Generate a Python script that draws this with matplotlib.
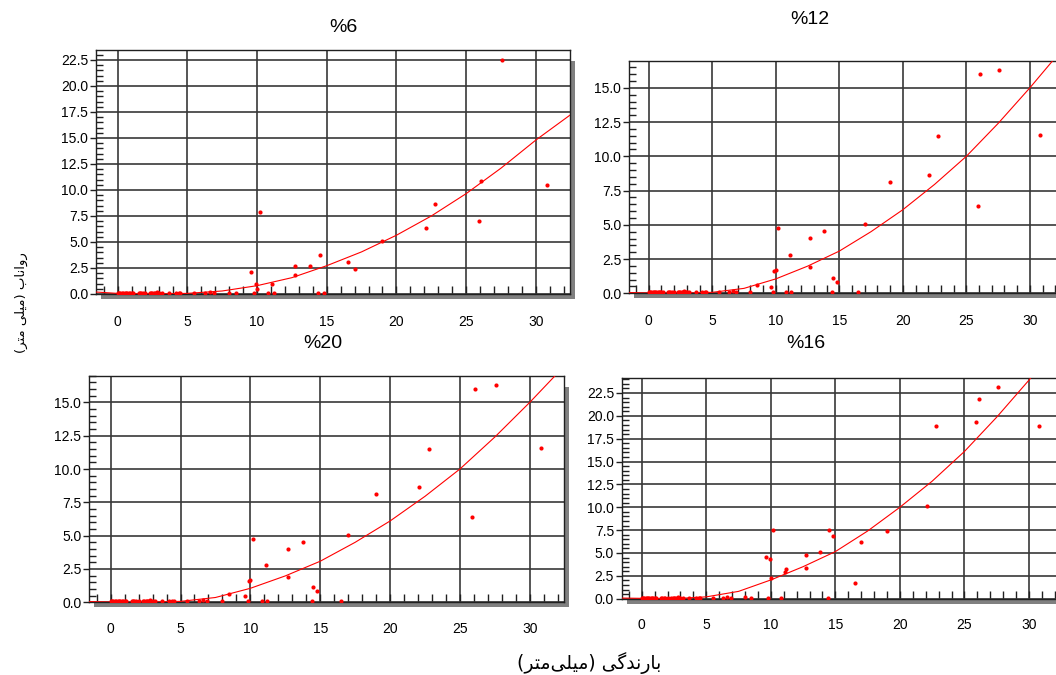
import matplotlib
matplotlib.use("Agg")
import matplotlib.pyplot as plt
from matplotlib.ticker import MultipleLocator, FormatStrFormatter
from matplotlib.patches import Rectangle

# dry / near-zero events (rainfall mm, runoff mm) - same in every panel
rain_low = [0.0, 0.1, 0.2, 0.3, 0.4, 0.5, 0.6, 0.7, 0.8, 0.9, 1.0, 1.1, 1.5, 1.6,
            1.7, 1.8, 2.0, 2.3, 2.4, 2.5, 2.6, 2.7, 2.8, 2.9, 3.0, 3.2, 3.7, 4.2,
            4.4, 4.5, 5.5, 6.3, 6.6, 6.9]
runoff_low = [0.1, 0.1, 0.1, 0.1, 0.1, 0.1, 0.1, 0.1, 0.1, 0.1, 0.1, 0.1, 0.1, 0.1,
              0.1, 0.1, 0.1, 0.1, 0.1, 0.1, 0.1, 0.1, 0.2, 0.1, 0.1, 0.1, 0.1, 0.1,
              0.1, 0.1, 0.1, 0.1, 0.15, 0.1]

# larger events
rain = [8.0, 8.5, 9.6, 9.8, 9.9, 10.0, 10.2, 10.8, 11.1, 11.2, 12.7, 12.7, 13.8,
        14.4, 14.5, 14.8, 16.5, 17.0, 19.0, 22.1, 22.8, 25.9, 26.1, 27.6, 30.8]
runoff_6 = [0.1, 0.1, 2.08, 0.1, 1.0, 0.5, 7.88, 0.1, 0.93, 0.1, 2.66, 1.8, 2.66,
            0.1, 3.75, 0.1, 3.08, 2.4, 5.13, 6.35, 8.65, 7.02, 10.87, 22.5, 10.45]
runoff_12 = [0.1, 0.6, 0.45, 0.1, 1.6, 1.67, 4.77, 0.1, 2.82, 0.1, 4.02, 1.9, 4.52,
             0.1, 1.12, 0.85, 0.1, 5.05, 8.15, 8.67, 11.47, 6.37, 16.0, 16.28, 11.58]
runoff_20 = [0.1, 0.6, 0.45, 0.1, 1.6, 1.67, 4.77, 0.1, 2.82, 0.1, 4.02, 1.9, 4.52,
             0.1, 1.12, 0.85, 0.1, 5.05, 8.15, 8.67, 11.47, 6.37, 16.0, 16.28, 11.58]
runoff_16 = [0.2, 0.1, 4.6, 0.1, 4.3, 2.26, 7.55, 0.1, 2.95, 3.2, 4.81, 3.32, 5.14,
             0.1, 7.55, 6.82, 1.72, 6.24, 7.37, 10.14, 18.9, 19.37, 21.85, 23.1, 18.9]

# fitted curves
curve_x = [-1.55, 0, 2.5, 5, 7.5, 10, 12.5, 15, 17.5, 20, 22.5, 25, 27.5, 30, 32.45]
curve_6 = [0.19, 0.06, 0.0, 0.06, 0.29, 0.8, 1.57, 2.72, 4.05, 5.65, 7.5, 9.65,
           12.1, 14.8, 17.2]
curve_12 = [0.05, 0.02, 0.0, 0.07, 0.36, 1.05, 1.98, 3.08, 4.5, 6.1, 7.95, 10.0,
            12.4, 15.0, 17.7]
curve_20 = curve_12
curve_16 = [0.07, 0.04, 0.0, 0.2, 0.8, 2.05, 3.5, 5.15, 7.4, 10.0, 12.85, 16.1,
            19.85, 23.9, 28.2]

titles = ["%6", "%12", "%20", "%16"]

# Persian labels (presentation forms, visual left-to-right order)
xlabel_fa = ("(\uFEAE\uFE98\uFEE3\uFBFD\uFEE0\uFBFF\uFEE3) "
             "\uFBFD\uFB94\uFEAA\uFEE7\uFEAD\uFE8E\uFE91")
ylabel_fa = ("(\uFEAE\uFE98\uFEE3 \uFBFD\uFEE0\uFBFF\uFEE3) "
             "\uFE8F\uFE8E\uFEE7\uFE8D\uFEED\uFEAD")

W, H = 1056, 675
fig = plt.figure(figsize=(W / 100, H / 100), dpi=100)
fig.patch.set_facecolor("white")

RED = "#ff0000"
GRID = "#383838"


def draw_panel(box, ytop, runoff, curve, title, title_xy, xpad):
    l, t, r, b = box
    ax = fig.add_axes([l / W, 1 - b / H, (r - l) / W, (b - t) / H])
    # drop shadow
    fig.add_artist(Rectangle(((l + 5) / W, 1 - (b + 5) / H), (r - l) / W,
                             (b - t - 6) / H, transform=fig.transFigure,
                             facecolor="#808080", edgecolor="none", zorder=-1))
    ax.set_xlim(-1.55, 32.45)
    ax.set_ylim(0, ytop)
    ax.xaxis.set_major_locator(MultipleLocator(5))
    ax.xaxis.set_minor_locator(MultipleLocator(1))
    ax.yaxis.set_major_locator(MultipleLocator(2.5))
    ax.yaxis.set_minor_locator(MultipleLocator(0.5))
    ax.yaxis.set_major_formatter(FormatStrFormatter("%.1f"))
    ax.grid(True, which="major", color=GRID, lw=1.2)
    ax.set_axisbelow(True)
    for s in ax.spines.values():
        s.set_color("#202020")
        s.set_linewidth(1.0)
    ax.tick_params(axis="x", which="both", direction="in", length=6, width=1,
                   color="#202020", pad=xpad)
    ax.tick_params(axis="y", which="major", direction="out", length=4, width=1,
                   color="#202020", pad=1.5)
    ax.tick_params(axis="y", which="minor", direction="in", length=5, width=1,
                   color="#202020")
    for lab in ax.get_xticklabels():
        lab.set_family(["Liberation Sans Narrow", "Liberation Sans"])
        lab.set_fontsize(10)
    for lab in ax.get_yticklabels():
        lab.set_family("Liberation Sans")
        lab.set_fontsize(10)

    ax.plot(curve_x, curve, color=RED, lw=0.8, zorder=3)
    ax.plot(rain_low, runoff_low, "o", color=RED, ms=3, mew=0, zorder=4)
    ax.plot(rain, runoff, "o", color=RED, ms=3, mew=0, zorder=4)

    fig.text(title_xy[0] / W, 1 - title_xy[1] / H, title, ha="center", va="center",
             fontsize=14, family=["Liberation Sans Narrow", "Liberation Sans"])
    return ax


draw_panel((96, 50, 570, 294), 23.46, runoff_6, curve_6, titles[0], (343, 27), 15)
draw_panel((629, 60.7, 1061, 293.3), 16.98, runoff_12, curve_12, titles[1], (810, 20), 15)
draw_panel((89, 375.7, 564, 602.3), 17.0, runoff_20, curve_20, titles[2], (323, 343), 14)
draw_panel((621.7, 378.3, 1060.6, 598.7), 24.1, runoff_16, curve_16, titles[3], (806, 343), 14)

fig.text(589 / W, 1 - 663 / H, xlabel_fa, ha="center", va="center",
         fontsize=13.5, family="DejaVu Sans")
fig.text(21 / W, 1 - 303 / H, ylabel_fa, ha="center", va="center",
         rotation=90, fontsize=9.5, family="DejaVu Sans")

fig.savefig("out.png", dpi=100)
